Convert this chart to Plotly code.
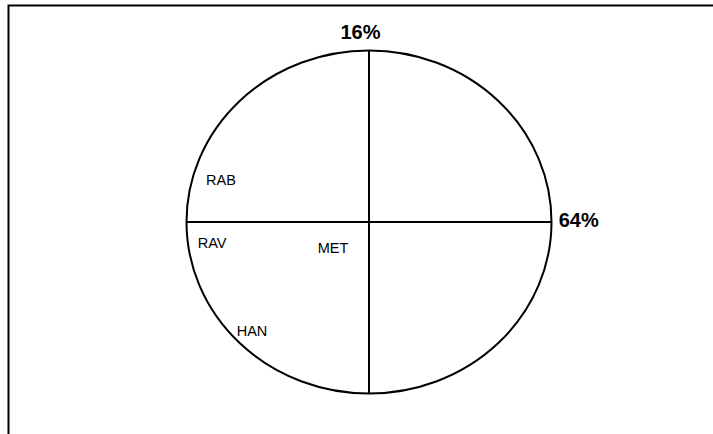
import plotly.graph_objects as go

# Data
region_labels = ["RAB", "RAV", "MET", "HAN"]
region_x = [-0.811, -0.860, -0.197, -0.641]
region_y = [0.239, -0.128, -0.157, -0.641]

pct_labels = ["16%", "64%"]
pct_x = [-0.047, 1.149]
pct_y = [1.096, 0.0]

W, H = 713, 434
cx, cy, rx, ry = 369, 222, 182.5, 171.5

fig = go.Figure()

fig.add_trace(go.Scatter(
    x=region_x, y=region_y, text=region_labels, mode="text",
    textfont=dict(family="Liberation Sans, Arial, sans-serif", size=14.5, color="#000"),
    hoverinfo="skip", showlegend=False,
))
fig.add_trace(go.Scatter(
    x=pct_x, y=pct_y, text=["<b>%s</b>" % t for t in pct_labels], mode="text",
    textfont=dict(family="Liberation Sans, Arial, sans-serif", size=20, color="#000"),
    hoverinfo="skip", showlegend=False,
))

line = dict(color="black", width=2)
fig.add_shape(type="circle", x0=-1, x1=1, y0=-1, y1=1, line=line, layer="above")
fig.add_shape(type="line", x0=0, x1=0, y0=-1, y1=1, line=line)
fig.add_shape(type="line", x0=-1, x1=1, y0=0, y1=0, line=line)
# outer frame (extends beyond the window on right and bottom)
fig.add_shape(type="rect", xref="paper", yref="paper",
              x0=8.5 / W, x1=1.2, y0=-0.2, y1=1 - 5.5 / H,
              line=dict(color="black", width=2))

fig.update_xaxes(range=[-cx / rx, (W - cx) / rx], visible=False, fixedrange=True)
fig.update_yaxes(range=[(cy - H) / ry, cy / ry], visible=False, fixedrange=True)
fig.update_layout(
    width=W, height=H, margin=dict(l=0, r=0, t=0, b=0),
    paper_bgcolor="white", plot_bgcolor="white",
)

fig.write_html(
    "out.html",
    config={"displayModeBar": False},
    post_script="document.body.style.margin='0';document.body.style.overflow='hidden';",
)
